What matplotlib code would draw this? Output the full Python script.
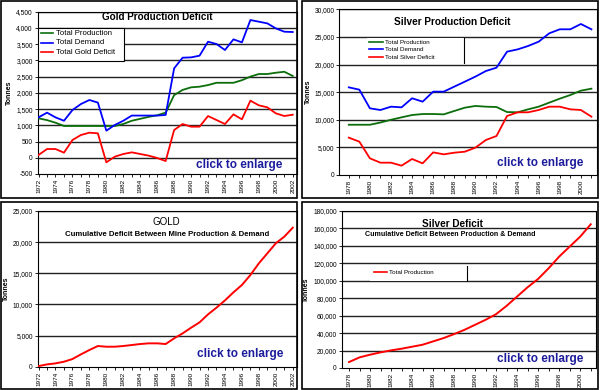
import matplotlib
matplotlib.use("Agg")
import matplotlib.pyplot as plt
import matplotlib.ticker as mticker
from matplotlib.patches import Rectangle

plt.rcParams['font.family'] = ['Liberation Sans', 'DejaVu Sans']

# ---------------- data ----------------
gold_years = list(range(1972, 2003))
gold_production = [1215, 1160, 1080, 980, 980, 980, 980, 980, 980, 980, 1040, 1140, 1200, 1260, 1310, 1390,
                   1930, 2090, 2170, 2190, 2240, 2310, 2310, 2310, 2390, 2500, 2580, 2580, 2620, 2650, 2520]
gold_demand = [1245, 1390, 1245, 1140, 1470, 1655, 1780, 1700, 835, 1010, 1140, 1300, 1300, 1300, 1300, 1320,
               2755, 3083, 3093, 3145, 3576, 3504, 3320, 3648, 3555, 4243, 4192, 4140, 3987, 3884, 3874]
gold_deficit = [85, 270, 270, 157, 547, 701, 773, 753, -141, 34, 116, 167, 116, 65, -7, -100,
                855, 1040, 958, 958, 1286, 1163, 1040, 1338, 1184, 1759, 1615, 1553, 1369, 1286, 1327]
gold_cumulative = [100, 370, 535, 800, 1230, 1980, 2680, 3320, 3210, 3210, 3320, 3480, 3640, 3750, 3750, 3640,
                   4550, 5350, 6260, 7120, 8400, 9480, 10650, 11940, 13120, 14720, 16600, 18200, 19810, 20880, 22320]

silver_years = list(range(1978, 2002))
silver_production = [9100, 9100, 9100, 9500, 10000, 10440, 10860, 11040, 11040, 10980, 11590, 12190,
                     12500, 12370, 12310, 11400, 11350, 11890, 12370, 13100, 13820, 14480, 15270, 15630]
silver_demand = [15870, 15450, 12070, 11770, 12370, 12250, 13890, 13280, 15090, 15090, 16000, 16900,
                 17810, 18830, 19430, 22330, 22740, 23360, 24140, 25650, 26380, 26380, 27340, 26380]
silver_deficit = [6760, 6040, 3020, 2230, 2230, 1690, 2900, 2110, 4100, 3740, 4040, 4220,
                  4950, 6340, 7060, 10680, 11350, 11350, 11770, 12370, 12370, 11890, 11770, 10560]
silver_cumulative = [6860, 12200, 15260, 17930, 20210, 22120, 24410, 26700, 30510, 34320, 38900, 43860,
                     49580, 55300, 61780, 71320, 82000, 92680, 102210, 114420, 127770, 139210, 150650, 164760]

GREEN = '#0b6e0b'
BLUE = '#0000ff'
RED = '#ff0000'
NAVY = '#1c1c9c'
W, H = 600, 390

fig = plt.figure(figsize=(6, 3.9), dpi=100)
fig.patch.set_facecolor('white')


def fig_rect(l, t, r, b):
    return [l / W, 1 - b / H, (r - l) / W, (b - t) / H]


# panel borders
for (l, t, r, b) in [(1, 1, 297, 198), (302, 1, 598, 198), (1, 202, 297, 389), (302, 202, 598, 389)]:
    fig.add_artist(Rectangle((l / W, 1 - b / H), (r - l) / W, (b - t) / H, transform=fig.transFigure,
                             fill=False, edgecolor='black', lw=1.2))


def setup(ax, years, ymin, ymax, ystep, xlim):
    ax.set_xlim(*xlim)
    ax.set_ylim(ymin, ymax)
    ax.set_yticks(list(range(ymin, ymax + 1, ystep)))
    ax.yaxis.set_major_formatter(mticker.FuncFormatter(lambda v, p: f"{v:,.0f}"))
    ax.set_xticks([y for y in years if y % 2 == 0])
    ax.set_xticks(years, minor=True)
    ax.set_xticklabels([str(y) for y in years if y % 2 == 0], rotation=90, fontsize=4.6)
    ax.tick_params(axis='y', labelsize=4.8, length=2, width=0.6, pad=1.5)
    ax.tick_params(axis='x', which='both', length=2, width=0.6, pad=1.5)
    for v in range(ymin + ystep, ymax + 1, ystep):
        ax.axhline(v, color='#222222', lw=1.0, zorder=1)
    for s in ax.spines.values():
        s.set_linewidth(0.8)
        s.set_color('black')
    ax.set_ylabel('Tonnes', fontsize=5, fontweight='bold', labelpad=2)


def click(ax, x, y):
    ax.text(x, y, 'click to enlarge', transform=ax.transAxes, color=NAVY, fontsize=8.5,
            fontweight='bold', ha='center', va='center', zorder=5)


def manual_legend(ax, box_px, axes_px, entries, fontsize, line_px, text_px, full_box=True, vline=None):
    al, at, ar, ab = axes_px

    def tx(x):
        return (x - al) / (ar - al)

    def ty(y):
        return (ab - y) / (ab - at)

    l, t, r, b = box_px
    ax.add_patch(Rectangle((tx(l), ty(b)), tx(r) - tx(l), ty(t) - ty(b), transform=ax.transAxes,
                           facecolor='white', edgecolor='black' if full_box else 'none', lw=0.8, zorder=4))
    for (label, color, ypx) in entries:
        ax.plot([tx(line_px[0]), tx(line_px[1])], [ty(ypx), ty(ypx)], color=color, lw=1.2,
                transform=ax.transAxes, zorder=5)
        ax.text(tx(text_px), ty(ypx), label, transform=ax.transAxes, fontsize=fontsize,
                va='center', ha='left', zorder=5)
    if vline is not None:
        x, y0, y1 = vline
        ax.plot([tx(x), tx(x)], [ty(y0), ty(y1)], color='black', lw=0.8, transform=ax.transAxes, zorder=5)


# ---------------- Top-left: Gold Production Deficit ----------------
tl_px = (37.7, 11.7, 297, 174)
ax1 = fig.add_axes(fig_rect(*tl_px))
setup(ax1, gold_years, -500, 4500, 500, (1971.9, 2002.5))
ax1.plot(gold_years, gold_production, color=GREEN, lw=1.3, zorder=3)
ax1.plot(gold_years, gold_demand, color=BLUE, lw=1.3, zorder=3)
ax1.plot(gold_years, gold_deficit, color=RED, lw=1.3, zorder=3)
ax1.text((157.5 - 37.7) / 259.3, (174 - 17.3) / 162.3, 'Gold Production Deficit', transform=ax1.transAxes,
         fontsize=7.1, fontweight='bold', ha='center', va='center', zorder=5)
manual_legend(ax1, (37.7, 27.5, 124, 61), tl_px,
              [('Total Production', GREEN, 33.3), ('Total Demand', BLUE, 42.7), ('Total Gold Deficit', RED, 52.3)],
              5.6, (41, 53), 56.5)
click(ax1, (239 - 37.7) / 259.3, (174 - 165) / 162.3)

# ---------------- Top-right: Silver Production Deficit ----------------
tr_px = (339.3, 9.3, 596.7, 175)
ax2 = fig.add_axes(fig_rect(*tr_px))
setup(ax2, silver_years, 0, 30000, 5000, (1977.1, 2001.5))
ax2.plot(silver_years, silver_production, color=GREEN, lw=1.3, zorder=3)
ax2.plot(silver_years, silver_demand, color=BLUE, lw=1.3, zorder=3)
ax2.plot(silver_years, silver_deficit, color=RED, lw=1.3, zorder=3)
ax2.text((452 - 339.3) / 257.4, (175 - 22) / 165.7, 'Silver Production Deficit', transform=ax2.transAxes,
         fontsize=7.2, fontweight='bold', ha='center', va='center', zorder=5)
manual_legend(ax2, (367, 37.5, 464.3, 63), tr_px,
              [('Total Production', GREEN, 42), ('Total Demand', BLUE, 49.3), ('Total Silver Deficit', RED, 57.3)],
              4.5, (369, 383), 385, full_box=False, vline=(464.3, 37.5, 63))
click(ax2, (540 - 339.3) / 257.4, (175 - 163) / 165.7)

# ---------------- Bottom-left: Gold cumulative ----------------
bl_px = (37.7, 211, 297, 366.7)
ax3 = fig.add_axes(fig_rect(*bl_px))
setup(ax3, gold_years, 0, 25000, 5000, (1971.9, 2002.5))
ax3.plot(gold_years, gold_cumulative, color=RED, lw=1.4, zorder=3)
ax3.text((166 - 37.7) / 259.3, (366.7 - 222) / 155.7, 'GOLD', transform=ax3.transAxes,
         fontsize=7, ha='center', va='center', zorder=5)
ax3.text((167 - 37.7) / 259.3, (366.7 - 234.5) / 155.7, 'Cumulative Deficit Between Mine Production & Demand',
         transform=ax3.transAxes, fontsize=5.55, fontweight='bold', ha='center', va='center', zorder=5)
click(ax3, (240 - 37.7) / 259.3, (366.7 - 354) / 155.7)

# ---------------- Bottom-right: Silver cumulative ----------------
br_px = (341.7, 211, 596, 368)
ax4 = fig.add_axes(fig_rect(*br_px))
setup(ax4, silver_years, 0, 180000, 20000, (1977.3, 2001.5))
ax4.plot(silver_years, silver_cumulative, color=RED, lw=1.4, zorder=3)
ax4.text((452 - 341.7) / 254.3, (368 - 224) / 157, 'Silver Deficit', transform=ax4.transAxes,
         fontsize=7.2, fontweight='bold', ha='center', va='center', zorder=5)
ax4.text((450 - 341.7) / 254.3, (368 - 234) / 157, 'Cumulative Deficit Between Production & Demand',
         transform=ax4.transAxes, fontsize=5.15, fontweight='bold', ha='center', va='center', zorder=5)
manual_legend(ax4, (370, 265.5, 467, 280.5), br_px, [('Total Production', RED, 272)],
              4.5, (374, 387), 389, full_box=False, vline=(467, 265.5, 280.5))
click(ax4, (540 - 341.7) / 254.3, (368 - 359) / 157)

fig.savefig('out.png', dpi=100, facecolor='white')
